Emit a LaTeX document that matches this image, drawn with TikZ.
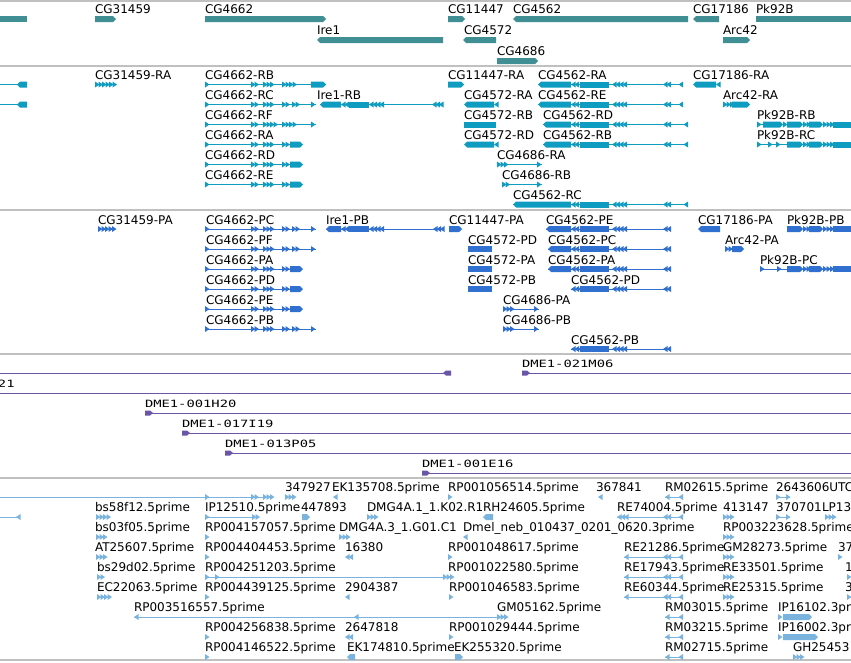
\documentclass[tikz,border=0pt]{standalone}
\usepackage{fontspec}
\setmainfont{DejaVu Sans}
\newfontfamily\dmefont[FakeStretch=1.38]{DejaVu Sans Mono}
\definecolor{gteal}{HTML}{408F94}
\definecolor{gcyan}{HTML}{0E9CC0}
\definecolor{gblue}{HTML}{3070D0}
\definecolor{gpurp}{HTML}{6B55A8}
\definecolor{gest}{HTML}{7AB4DE}
\definecolor{gsep}{HTML}{C0C0C0}
\colorlet{fc}{gteal}
\newcounter{nn}
\def\Y{0}\def\off{5}
\newcommand\gXR[2]{\fill[fc] (#1,\Y-3) -- (#2-3,\Y-3) -- (#2,\Y) -- (#2-3,\Y+3) -- (#1,\Y+3) -- cycle;}
\newcommand\gXL[2]{\fill[fc] (#1,\Y) -- (#1+3,\Y-3) -- (#2,\Y-3) -- (#2,\Y+3) -- (#1+3,\Y+3) -- cycle;}
\newcommand\gXB[2]{\fill[fc] (#1,\Y-3) rectangle (#2,\Y+3);}
\newcommand\gTR[1]{\fill[fc] (#1,\Y-3) -- (#1+4.5,\Y) -- (#1,\Y+3) -- cycle;}
\newcommand\gTL[1]{\fill[fc] (#1+4.5,\Y-3) -- (#1,\Y) -- (#1+4.5,\Y+3) -- cycle;}
\newcommand\gCR[2]{\foreach \k in {1,...,#2}{\gTR{#1+3.5*\k-3.5}}}
\newcommand\gCL[2]{\foreach \k in {1,...,#2}{\gTL{#1+3.5*\k-3.5}}}
\newcommand\gLN[2]{\draw[fc,line width=1pt] (#1,\Y) -- (#2,\Y);}
\newcommand\gLB[2]{\stepcounter{nn}\edef\nm{t\arabic{nn}}\node[lab] (\nm) at (#1,\Y-\off) {#2};}
\newcommand\gLD[2]{\stepcounter{nn}\edef\nm{t\arabic{nn}}\node[dlab] (\nm) at (#1,\Y-\off) {#2};}
\newcommand\gDF[1]{\fill[fc] (#1,\Y-2.5) -- (#1+5,\Y-2.5) -- (#1+8,\Y) -- (#1+5,\Y+2.5) -- (#1,\Y+2.5) -- cycle;}
\newcommand\gDL[1]{\fill[fc] (#1,\Y) -- (#1+3,\Y-2.5) -- (#1+8,\Y-2.5) -- (#1+8,\Y+2.5) -- (#1+3,\Y+2.5) -- cycle;}
\newcommand\gCore{\gCL{571}{2}\gXB{580}{609}\gCL{612}{4}\gCL{663}{2}}
\newcommand\gRA{\gLN{205}{298}\gTR{205}\gCR{251}{2}\gCR{263}{3}\gCR{282}{2}\gXR{290}{303}}
\newcommand\gRC{\gLN{205}{316}\gTR{205}\gCR{251}{2}\gCR{263}{3}\gCR{282}{2}\gCR{292}{2}\gTR{311}}
\begin{document}
\begin{tikzpicture}[x=1pt,y=-1pt,
  lab/.style={anchor=base west,inner sep=0pt,outer sep=0pt,font=\fontsize{12}{14}\selectfont,text=black},
  dlab/.style={anchor=base west,inner sep=0pt,outer sep=0pt,font=\dmefont\fontsize{10}{12}\selectfont,text=black}]
\useasboundingbox (0,0) rectangle (851,662);
\clip (0,0) rectangle (851,662);
\fill[white] (0,0) rectangle (851,662);
\foreach \yy in {1,66,210,354,478,660}{\draw[gsep,line width=1.3pt] (0,\yy) -- (851,\yy);}
% ---------------- panel 1: genes
\colorlet{fc}{gteal}\def\off{6}
\def\Y{19}
\gXB{0}{27}
\gXR{95}{116}\gLB{95}{CG31459}
\gXR{205}{326}\gLB{205}{CG4662}
\gXR{448}{465}\gLB{448}{CG11447}
\gXL{513}{688}\gLB{513}{CG4562}
\gXL{693}{719}\gLB{693}{CG17186}
\gXB{756}{851}\gLB{756}{Pk92B}
\def\Y{40}
\gXL{317}{443}\gLB{317}{Ire1}
\gXL{463}{496}\gLB{464}{CG4572}
\gXR{723}{750}\gLB{723}{Arc42}
\def\Y{61}
\gXR{497}{538}\gLB{497}{CG4686}
% ---------------- panel 2: transcripts
\colorlet{fc}{gcyan}\def\off{5}
\def\Y{84.5}
\gLN{0}{20}\gXL{17}{27}
\gLB{95}{CG31459-RA}\gCR{95}{6}
\gLB{205}{CG4662-RB}\gLN{205}{311}\gTR{205}\gCR{251}{2}\gCR{263}{3}\gCR{282}{4}\gXR{311}{326}
\gLB{448}{CG11447-RA}\gXR{448}{464}
\gLB{538}{CG4562-RA}\gLN{538}{683}\gXL{538}{571}\gCore\gTL{678.5}
\gLB{693}{CG17186-RA}\gXL{693}{716}\gTL{716}
\def\Y{104.5}
\gLN{0}{20}\gXL{17}{27}
\gLB{205}{CG4662-RC}\gRC
\gLB{317}{Ire1-RB}\gLN{320}{443}\gXL{320}{341}\gCL{341}{2}\gXB{349}{369}\gCL{369}{4}\gCL{432}{3}
\gLB{464}{CG4572-RA}\gXL{464}{494}\gTL{494}
\gLB{538}{CG4562-RE}\gLN{538}{683}\gXL{538}{571}\gCore\gTL{678.5}
\gLB{723}{Arc42-RA}\gCR{723}{3}\gXR{732}{750}
\def\Y{124.5}
\gLB{205}{CG4662-RF}\gLN{205}{316}\gTR{205}\gCR{251}{2}\gCR{263}{4}\gCR{282}{4}\gTR{311}
\gLB{464}{CG4572-RB}\gXB{464}{496}
\gLB{543}{CG4562-RD}\gLN{543}{688}\gXL{543}{571}\gCore\gTL{683.5}
\gLB{757}{Pk92B-RB}\gLN{757}{851}\gTR{757}\gXR{763}{783}\gCR{783}{1}\gXR{787}{803}\gCR{803}{2}\gXR{809}{823}\gCR{823}{3}\gXB{833}{851}
\def\Y{144.5}
\gLB{205}{CG4662-RA}\gRA
\gLB{464}{CG4572-RD}\gXL{464}{494}\gTL{494}
\gLB{543}{CG4562-RB}\gLN{543}{688}\gXL{543}{571}\gCore\gTL{683.5}
\gLB{757}{Pk92B-RC}\gLN{757}{851}\gTR{757}\gTR{768}\gTR{776}\gXR{787}{803}\gCR{803}{2}\gXR{809}{823}\gCR{823}{3}\gXB{833}{851}
\def\Y{164.5}
\gLB{205}{CG4662-RD}\gRA
\gLB{497}{CG4686-RA}\gLN{497}{542}\gCR{497}{3}\gTR{537}
\def\Y{184.5}
\gLB{205}{CG4662-RE}\gRA
\gLB{502}{CG4686-RB}\gLN{502}{542}\gCR{502}{2}\gTR{537}
\def\Y{204.5}
\gLB{513}{CG4562-RC}\gLN{513}{688}\gXL{513}{571}\gCore\gTL{683.5}
% ---------------- panel 3: proteins
\colorlet{fc}{gblue}\def\off{5}
\def\Y{229}
\gLB{98}{CG31459-PA}\gCR{98}{5}
\gLB{206}{CG4662-PC}\gRC
\gLB{326}{Ire1-PB}\gLN{326}{443}\gXL{326}{341}\gCL{341}{2}\gXB{349}{369}\gCL{369}{4}\gCL{433}{3}
\gLB{449}{CG11447-PA}\gXR{449}{462}
\gLB{546}{CG4562-PE}\gLN{546}{670}\gXL{546}{571}\gCore
\gLB{698}{CG17186-PA}\gXL{698}{720}
\gLB{787}{Pk92B-PB}\gXR{787}{803}\gCR{803}{2}\gXR{809}{823}\gCR{823}{3}\gXB{833}{851}
\def\Y{249}
\gLB{206}{CG4662-PF}\gRC
\gLB{468}{CG4572-PD}\gXB{468}{492}
\gLB{548}{CG4562-PC}\gLN{548}{670}\gXL{548}{571}\gCore
\gLB{725}{Arc42-PA}\gCR{725}{2}\gXR{732}{744}
\def\Y{269}
\gLB{206}{CG4662-PA}\gRA
\gLB{468}{CG4572-PA}\gXB{468}{492}
\gLB{548}{CG4562-PA}\gLN{548}{670}\gXL{548}{571}\gCore
\gLB{760}{Pk92B-PC}\gLN{760}{851}\gTR{760}\gTR{777}\gXR{787}{803}\gCR{803}{2}\gXR{809}{823}\gCR{823}{3}\gXB{833}{851}
\def\Y{289}
\gLB{206}{CG4662-PD}\gRA
\gLB{468}{CG4572-PB}\gXB{468}{492}
\gLB{571}{CG4562-PD}\gLN{571}{670}\gCL{571}{3}\gXB{580}{609}\gCL{612}{4}\gCL{663}{2}
\def\Y{309}
\gLB{206}{CG4662-PE}\gRA
\gLB{503}{CG4686-PA}\gLN{503}{539}\gCR{503}{3}\gTR{534}
\def\Y{329}
\gLB{206}{CG4662-PB}\gRC
\gLB{503}{CG4686-PB}\gLN{503}{539}\gCR{503}{3}\gTR{534}
\def\Y{349}
\gLB{571}{CG4562-PB}\gLN{571}{670}\gCL{571}{3}\gXB{580}{609}\gCL{612}{4}\gCL{663}{2}
% ---------------- panel 4: DME clones
\colorlet{fc}{gpurp}\def\off{6}
\def\Y{373}
\gLN{0}{451}\gDL{443}
\gLD{522}{DME1-021M06}\gLN{522}{851}\gDF{522}
\def\Y{393}
\gLD{-2}{21}\gLN{0}{851}
\def\Y{413}
\gLD{145}{DME1-001H20}\gLN{145}{851}\gDF{145}
\def\Y{433}
\gLD{182}{DME1-017I19}\gLN{182}{851}\gDF{182}
\def\Y{453}
\gLD{225}{DME1-013P05}\gLN{225}{851}\gDF{225}
\def\Y{473}
\gLD{422}{DME1-001E16}\gLN{422}{851}\gDF{422}
% ---------------- panel 5: ESTs
\colorlet{fc}{gest}\def\off{6}
\def\Y{497}
\gLN{0}{263}\gTR{205}\gCR{251}{2}\gCR{263}{3}
\gLB{285}{347927}\gCR{285}{3}
\gLB{332}{EK135708.5prime}\gTL{333}
\gLB{448}{RP001056514.5prime}\gTR{448}
\gLB{596}{367841}\gTL{598}
\gLB{665}{RM02615.5prime}\gLN{665}{683}\gTL{665}\gTL{678.5}
\gLB{776}{2643606UTC}\gLN{776}{790}\gTR{776}\gTR{786}
\def\Y{517}
\gLN{0}{20}\gTL{16}
\gLB{95}{bs58f12.5prime}\gCR{96}{4}
\gLB{205}{IP12510.5prime}\gLN{205}{252}\gTR{205}\gCR{252}{2}
\gLB{301}{447893}\gXR{302}{310}
\gLB{367}{DMG4A.1\_1.K02.R1}\gCR{367}{3}
\gLB{483}{RH24605.5prime}\gXL{483}{493}
\gLB{617}{RE74004.5prime}\gLN{617}{683}\gCL{617}{3}\gCL{663}{2}\gTL{678.5}
\gLB{723}{413147}\gCR{723}{3}
\gLB{776}{370701}\gLN{776}{790}\gTR{776}\gTR{786}
\gLB{822}{LP13}\gCR{825}{3}
\def\Y{537}
\gLB{95}{bs03f05.5prime}\gCR{96}{3}
\gLB{205}{RP004157057.5prime}\gTR{205}
\gLB{339}{DMG4A.3\_1.G01.C1}\gCR{339}{3}
\gLB{463}{Dmel\_neb\_010437\_0201\_0620.3prime}\gTL{463}
\gLB{723}{RP003223628.5prime}\gCR{723}{3}
\def\Y{557}
\gLB{95}{AT25607.5prime}\gCR{96}{3}
\gLB{205}{RP004404453.5prime}\gTR{205}
\gLB{345}{16380}\gCL{345}{2}
\gLB{448}{RP001048617.5prime}\gTR{448}
\gLB{624}{RE21286.5prime}\gLN{624}{683}\gTL{624}\gCL{663}{2}\gTL{678.5}
\gLB{723}{GM28273.5prime}\gCR{723}{3}
\gLB{838}{37}\gTR{838}
\def\Y{577}
\gLB{97}{bs29d02.5prime}\gCR{97}{2}
\gLB{205}{RP004251203.5prime}\gLN{205}{445}\gTR{205}\gTR{215}\gCR{443}{3}
\gLB{448}{RP001022580.5prime}
\gLB{624}{RE17943.5prime}\gLN{624}{683}\gTL{624}\gCL{663}{2}\gTL{678.5}
\gLB{723}{RE33501.5prime}\gCR{723}{3}
\gLB{845}{1}\gTR{847}
\def\Y{597}
\gLB{97}{EC22063.5prime}\gCR{97}{4}
\gLB{205}{RP004439125.5prime}\gTR{205}
\gLB{345}{2904387}\gTL{345}
\gLB{449}{RP001046583.5prime}\gTR{449}
\gLB{624}{RE60344.5prime}\gLN{624}{683}\gTL{624}\gCL{663}{2}\gTL{678.5}
\gLB{723}{RE25315.5prime}\gCR{723}{3}
\gLB{845}{3}\gTR{847}
\def\Y{617}
\gLB{134}{RP003516557.5prime}\gLN{134}{505}\gTL{134}\gTL{354}
\gLB{497}{GM05162.5prime}\gCR{497}{3}
\gLB{665}{RM03015.5prime}\gLN{665}{683}\gTL{665}\gTL{678.5}
\gLB{778}{IP16102.3prime}\gTR{778}\gXR{783}{812}
\def\Y{637}
\gLB{205}{RP004256838.5prime}\gTR{205}
\gLB{345}{2647818}\gCL{345}{2}
\gLB{449}{RP001029444.5prime}\gTR{449}
\gLB{665}{RM03215.5prime}\gLN{665}{683}\gTL{665}\gTL{678.5}
\gLB{778}{IP16002.3prime}\gTR{778}\gXR{783}{818}
\def\Y{657}
\gLB{205}{RP004146522.5prime}\gTR{205}
\gLB{347}{EK174810.5prime}\gXL{347}{355}
\gLB{454}{EK255320.5prime}\gXR{455}{463}
\gLB{665}{RM02715.5prime}\gLN{665}{683}\gTL{665}\gTL{678.5}
\gLB{793}{GH25453}\gCR{793}{3}
\end{tikzpicture}
\end{document}
